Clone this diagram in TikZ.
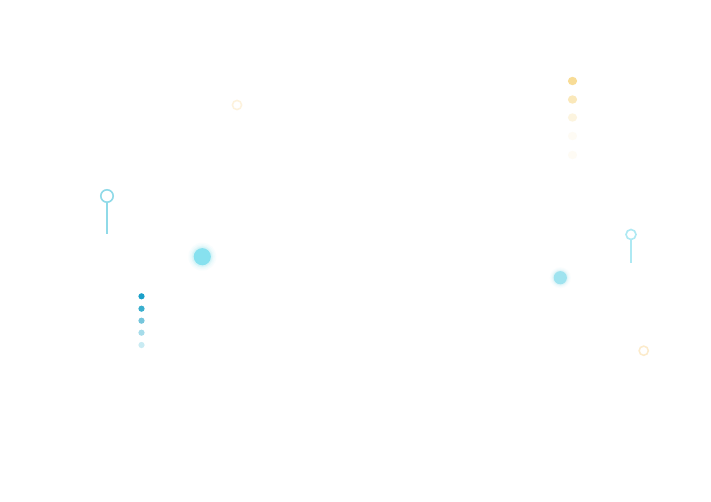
\documentclass[tikz,border=0pt]{standalone}
\begin{document}
\begin{tikzpicture}[x=1pt,y=-1pt,
  pinline/.style={line width=2pt},
  ring/.style={line width=1.6pt, fill=white}]
\definecolor{pinA}{HTML}{90DAE8}
\definecolor{pinB}{HTML}{AEE9F3}
\definecolor{glowA}{HTML}{87E1EF}
\definecolor{glowB}{HTML}{9FE3EF}
\definecolor{yel}{HTML}{F8DC96}
\definecolor{ringY}{HTML}{FCEBCB}
\definecolor{ringZ}{HTML}{FDF2DC}
\definecolor{bA}{HTML}{1BA0C9}
\definecolor{bB}{HTML}{3AAFCE}
\definecolor{bC}{HTML}{76C6DC}
\definecolor{bD}{HTML}{A6DCEA}
\definecolor{bE}{HTML}{C9EBF3}
\useasboundingbox[fill=white] (0,0) rectangle (711,501);
% yellow column
\fill[yel] (572.5,81) ellipse (4.6 and 4.2);
\fill[yel,opacity=0.65] (572.5,99.5) ellipse (4.6 and 4.2);
\fill[yel,opacity=0.3] (572.5,117.5) ellipse (4.6 and 4.2);
\fill[yel,opacity=0.1] (572.5,136) ellipse (4.6 and 4.2);
\fill[yel,opacity=0.1] (572.5,155) ellipse (4.6 and 4.2);
% left pin
\coordinate (lpc) at (107,196);
\fill[pinA] (106,202.6) rectangle (108,234);
\draw[pinA,ring] (lpc) circle (6.2);
% right pin
\coordinate (rpc) at (631,234.5);
\coordinate (rpe) at (631,262.5);
\draw[pinB,pinline] (631,239.8) -- (rpe);
\draw[pinB,ring] (rpc) circle (5.0);
% glowing dots
\foreach \r/\o in {14/0.05,12.5/0.07,11/0.1,10/0.15}{
  \fill[glowA,opacity=\o] (202.3,256.7) circle (\r);
  \fill[glowB,opacity=\o] (560.3,277.7) circle (\r*0.75);
}
\fill[glowA] (202.3,256.7) circle (8.6);
\fill[glowB] (560.3,277.7) circle (6.6);
% blue column
\fill[bA] (141.5,296.3) circle (3.1);
\fill[bB] (141.5,308.7) circle (3.1);
\fill[bC] (141.5,320.7) circle (3.1);
\fill[bD] (141.5,332.7) circle (3.1);
\fill[bE] (141.5,345) circle (3.1);
% rings
\draw[ringY,line width=1.5pt] (643.7,350.7) circle (4.6);
\draw[ringZ,line width=1.5pt] (237,105) circle (4.6);
\end{tikzpicture}
\end{document}
